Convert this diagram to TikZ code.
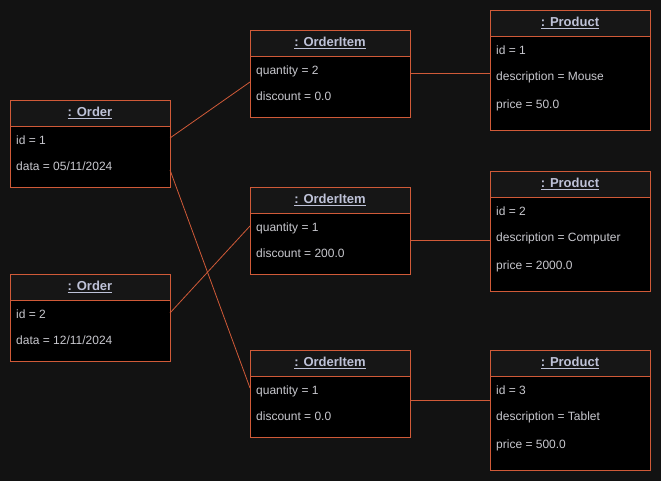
\documentclass[tikz,border=0pt]{standalone}
\usepackage{fontspec}
\setmainfont{Liberation Sans}
\usetikzlibrary{positioning,calc}

\definecolor{canvas}{RGB}{18,18,18}
\definecolor{headfill}{RGB}{22,22,22}
\definecolor{edgecol}{RGB}{208,90,56}
\definecolor{txt}{RGB}{200,200,206}
\definecolor{ttl}{RGB}{190,194,216}

\tikzset{
  head/.style={draw=edgecol, fill=headfill, line width=0.8pt, minimum width=160pt,
    minimum height=26pt, inner sep=0pt, outer sep=0pt, text=ttl,
    font=\fontsize{13}{15}\selectfont\bfseries},
  body/.style={draw=edgecol, fill=black, line width=0.8pt, minimum width=160pt,
    inner sep=0pt, outer sep=0pt},
  attr/.style={anchor=north west, align=left, text=txt, inner xsep=6pt,
    inner ysep=10pt, font=\fontsize{12}{26}\selectfont},
  link/.style={draw=edgecol, line width=0.8pt}
}

\begin{document}
\begin{tikzpicture}[x=1pt,y=1pt]
    \fill[canvas] (0,0) rectangle (661,481);
    \useasboundingbox (0,0) rectangle (661,481);

    % orders
    \node[head] at (90, 368) (o1) {\raisebox{-1pt}{\underline{: Order}}};
    \node[body, minimum height=61pt, below=0pt of o1] (o1b) {};
    \node[attr] at (o1b.north west) (o1t) {id = 1\\data = 05/11/2024};
    \node[head] at (90, 194) (o2) {\raisebox{-1pt}{\underline{: Order}}};
    \node[body, minimum height=61pt, below=0pt of o2] (o2b) {};
    \node[attr] at (o2b.north west) (o2t) {id = 2\\data = 12/11/2024};

    % order items
    \node[head] at (330, 438) (oi1) {\raisebox{-1pt}{\underline{: OrderItem}}};
    \node[body, minimum height=61pt, below=0pt of oi1] (oi1b) {};
    \node[attr] at (oi1b.north west) (oi1t) {quantity = 2\\discount = 0.0};
    \node[head] at (330, 281) (oi2) {\raisebox{-1pt}{\underline{: OrderItem}}};
    \node[body, minimum height=61pt, below=0pt of oi2] (oi2b) {};
    \node[attr] at (oi2b.north west) (oi2t) {quantity = 1\\discount = 200.0};
    \node[head] at (330, 118) (oi3) {\raisebox{-1pt}{\underline{: OrderItem}}};
    \node[body, minimum height=61pt, below=0pt of oi3] (oi3b) {};
    \node[attr] at (oi3b.north west) (oi3t) {quantity = 1\\discount = 0.0};

    % products
    \node[head] at (570, 458) (p1) {\raisebox{-1pt}{\underline{: Product}}};
    \node[body, minimum height=94pt, below=0pt of p1] (p1b) {};
    \node[attr] at (p1b.north west) (p1t) {id = 1\\description = Mouse\\[2pt]price = 50.0};
    \node[head] at (570, 297) (p2) {\raisebox{-1pt}{\underline{: Product}}};
    \node[body, minimum height=94pt, below=0pt of p2] (p2b) {};
    \node[attr] at (p2b.north west) (p2t) {id = 2\\description = Computer\\[2pt]price = 2000.0};
    \node[head] at (570, 118) (p3) {\raisebox{-1pt}{\underline{: Product}}};
    \node[body, minimum height=94pt, below=0pt of p3] (p3b) {};
    \node[attr] at (p3b.north west) (p3t) {id = 3\\description = Tablet\\[2pt]price = 500.0};

    \draw[link]
    ($(o1b.north east)+(0,-12)$) edge ($(oi1b.north west)+(0,-26)$)
    ($(o1b.north east)+(0,-44)$) edge ($(oi3b.north west)+(0,-12)$)
    ($(o2b.north east)+(0,-13)$) edge ($(oi2b.north west)+(0,-13)$)

    ($(oi1b.north east)+(0,-17)$) edge ($(p1b.north west)+(0,-37)$)
    ($(oi2b.north east)+(0,-27)$) edge ($(p2b.north west)+(0,-43)$)
    ($(oi3b.north east)+(0,-24)$) edge ($(p3b.north west)+(0,-24)$);
\end{tikzpicture}
\end{document}
